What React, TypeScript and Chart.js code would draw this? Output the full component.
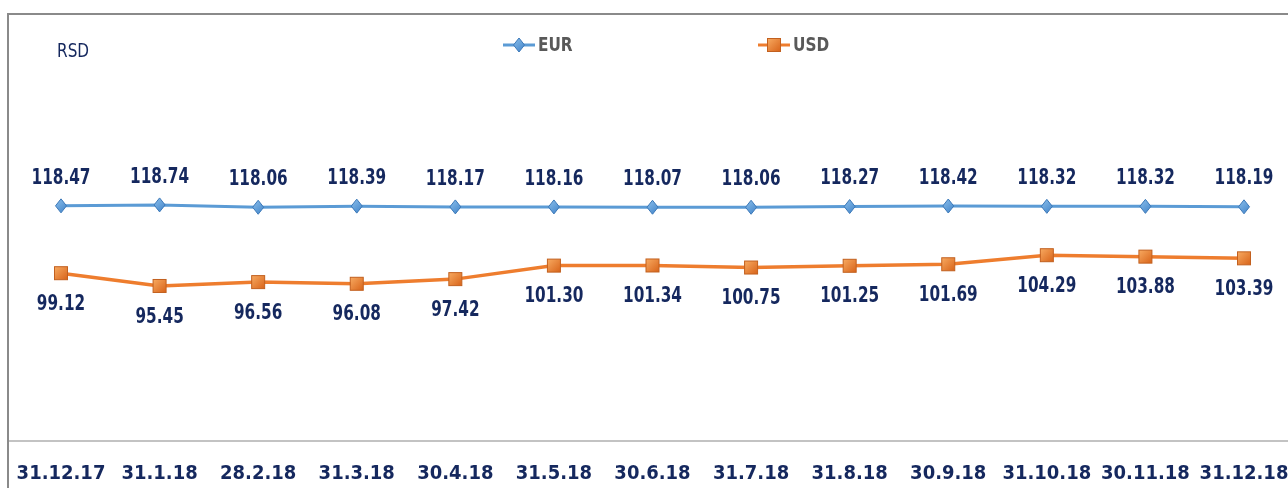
import React, { useEffect, useRef } from "react";
import { Chart, registerables } from "chart.js";

Chart.register(...registerables);

const CATEGORIES = [
  "31.12.17", "31.1.18", "28.2.18", "31.3.18", "30.4.18", "31.5.18", "30.6.18",
  "31.7.18", "31.8.18", "30.9.18", "31.10.18", "30.11.18", "31.12.18",
];
const EUR = [118.47, 118.74, 118.06, 118.39, 118.17, 118.16, 118.07, 118.06, 118.27, 118.42, 118.32, 118.32, 118.19];
const USD = [99.12, 95.45, 96.56, 96.08, 97.42, 101.3, 101.34, 100.75, 101.25, 101.69, 104.29, 103.88, 103.39];
const SERIES_NAMES = ["EUR", "USD"];
const UNIT_LABEL = "RSD";

const NAVY = "#15285e";
const FONT = "'DejaVu Sans Condensed', 'DejaVu Sans', sans-serif";
const EUR_COLOR = "#5b9bd5";
const USD_COLOR = "#ee7d2e";

const CANVAS_W = 1310;
const CANVAS_H = 488;

function drawMarker(ctx: CanvasRenderingContext2D, kind: string, x: number, y: number) {
  ctx.save();
  if (kind === "diamond") {
    const g = ctx.createLinearGradient(x - 6, y - 7, x + 6, y + 7);
    g.addColorStop(0, "#8cc0ec");
    g.addColorStop(1, "#3f82c8");
    ctx.fillStyle = g;
    ctx.strokeStyle = "#3b78b8";
    ctx.lineWidth = 1;
    ctx.beginPath();
    ctx.moveTo(x, y - 7);
    ctx.lineTo(x + 5.5, y);
    ctx.lineTo(x, y + 7);
    ctx.lineTo(x - 5.5, y);
    ctx.closePath();
    ctx.fill();
    ctx.stroke();
  } else {
    const g = ctx.createLinearGradient(x - 6, y - 6, x + 6, y + 6);
    g.addColorStop(0, "#f6a75e");
    g.addColorStop(1, "#d9661c");
    ctx.fillStyle = g;
    ctx.strokeStyle = "#c2601f";
    ctx.lineWidth = 1;
    ctx.fillRect(x - 6.5, y - 6.5, 13, 13);
    ctx.strokeRect(x - 6.5, y - 6.5, 13, 13);
  }
  ctx.restore();
}

const MARKER_KINDS = ["diamond", "square"];

function stretchedText(ctx: CanvasRenderingContext2D, text: string, x: number, y: number, sy: number) {
  ctx.save();
  ctx.translate(x, y);
  ctx.scale(1, sy);
  ctx.fillText(text, 0, 0);
  ctx.restore();
}

const decorPlugin = {
  id: "decor",
  beforeDatasetsDraw(chart: any) {
    const ctx = chart.ctx as CanvasRenderingContext2D;
    const area = chart.chartArea;
    ctx.save();
    ctx.strokeStyle = "#c3c3c3";
    ctx.lineWidth = 2;
    ctx.beginPath();
    ctx.moveTo(9, area.bottom + 1);
    ctx.lineTo(CANVAS_W, area.bottom + 1);
    ctx.stroke();
    ctx.restore();
  },
  afterDatasetsDraw(chart: any) {
    const ctx = chart.ctx as CanvasRenderingContext2D;
    chart.data.datasets.forEach((ds: any, i: number) => {
      const meta = chart.getDatasetMeta(i);
      meta.data.forEach((pt: any, j: number) => {
        drawMarker(ctx, MARKER_KINDS[i], pt.x, pt.y);
        ctx.save();
        ctx.font = `bold 17px ${FONT}`;
        ctx.fillStyle = NAVY;
        ctx.textAlign = "center";
        ctx.textBaseline = "middle";
        const v = (ds.data[j] as number).toFixed(2);
        const dy = i === 0 ? -28 : 31;
        stretchedText(ctx, v, pt.x, pt.y + dy, 1.28);
        ctx.restore();
      });
    });
  },
  afterDraw(chart: any) {
    const ctx = chart.ctx as CanvasRenderingContext2D;
    ctx.save();
    ctx.font = `17px ${FONT}`;
    ctx.fillStyle = NAVY;
    ctx.textAlign = "left";
    ctx.textBaseline = "middle";
    stretchedText(ctx, UNIT_LABEL, 57, 52, 1.15);
    ctx.restore();

    const legendX = [503, 758];
    const ly = 45;
    chart.data.datasets.forEach((ds: any, i: number) => {
      const x0 = legendX[i];
      ctx.save();
      ctx.strokeStyle = ds.borderColor;
      ctx.lineWidth = 3;
      ctx.beginPath();
      ctx.moveTo(x0, ly);
      ctx.lineTo(x0 + 32, ly);
      ctx.stroke();
      ctx.restore();
      drawMarker(ctx, MARKER_KINDS[i], x0 + 16, ly);
      ctx.save();
      ctx.font = `bold 17px ${FONT}`;
      ctx.fillStyle = "#595959";
      ctx.textAlign = "left";
      ctx.textBaseline = "middle";
      stretchedText(ctx, ds.label, x0 + 35, ly + 1, 1.12);
      ctx.restore();
    });
  },
};

export default function App() {
  const canvasRef = useRef<HTMLCanvasElement | null>(null);

  useEffect(() => {
    const canvas = canvasRef.current;
    if (!canvas) return;
    const chart = new Chart(canvas, {
      type: "line",
      data: {
        labels: CATEGORIES,
        datasets: [
          {
            label: SERIES_NAMES[0],
            data: EUR,
            borderColor: EUR_COLOR,
            borderWidth: 3,
            pointRadius: 0,
            pointHoverRadius: 0,
            tension: 0,
          },
          {
            label: SERIES_NAMES[1],
            data: USD,
            borderColor: USD_COLOR,
            borderWidth: 3.5,
            pointRadius: 0,
            pointHoverRadius: 0,
            tension: 0,
          },
        ],
      },
      options: {
        responsive: false,
        animation: false,
        devicePixelRatio: 1,
        layout: { padding: { left: 61, right: CANVAS_W - 1244, top: 70, bottom: 0 } },
        plugins: {
          legend: { display: false },
          tooltip: { enabled: false },
        },
        scales: {
          x: {
            type: "category",
            offset: false,
            grid: { display: false, drawTicks: false },
            border: { display: false },
            ticks: {
              color: NAVY,
              font: { family: FONT, size: 20, weight: "bold" },
              padding: 22,
              maxRotation: 0,
              autoSkip: false,
            },
            afterFit(scale: any) {
              scale.height = 48;
              scale.paddingLeft = 0;
              scale.paddingRight = 0;
            },
          },
          y: {
            display: false,
            min: 51.2,
            max: 157.5,
          },
        },
      },
      plugins: [decorPlugin],
    });
    return () => chart.destroy();
  }, []);

  return (
    <div
      style={{
        position: "fixed",
        left: 0,
        top: 0,
        width: 1288,
        height: 488,
        overflow: "hidden",
        background: "#ffffff",
      }}
    >
      <div
        style={{
          position: "absolute",
          left: 7,
          top: 13,
          width: 1400,
          height: 500,
          borderTop: "2px solid #8a8a8a",
          borderLeft: "2px solid #8a8a8a",
        }}
      />
      <canvas
        ref={canvasRef}
        width={CANVAS_W}
        height={CANVAS_H}
        style={{ position: "absolute", left: 0, top: 0, width: CANVAS_W, height: CANVAS_H }}
      />
    </div>
  );
}
